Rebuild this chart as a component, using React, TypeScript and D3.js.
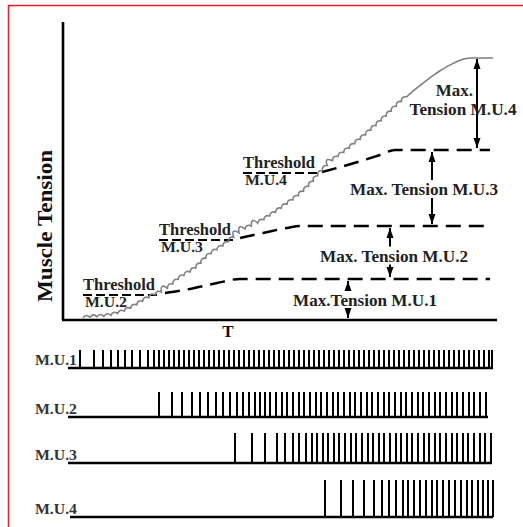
import React, { useEffect, useRef } from "react";
import * as d3 from "d3";

// ---- data (time units on the shared T axis, tension units on the Muscle Tension axis) ----
const tensionT = [20, 30, 44, 64, 87, 102, 117, 134, 144, 164, 177, 197, 220, 244, 260, 267, 284, 300, 317, 340, 364, 387, 407, 430];
const tensionV = [2, 3, 4, 10, 23, 30, 42, 53, 63, 77, 88, 98, 113, 132, 150, 157, 170, 183, 198, 220, 240, 255, 262, 262];

// plateau levels: baseline, M.U.1 max, +M.U.2, +M.U.3, +M.U.4
const levels = [0, 41, 94, 170, 263];
const arrowT = [285, 327, 369, 414];
const maxLabels = ["Max.Tension M.U.1", "Max. Tension M.U.2", "Max. Tension M.U.3"];
const maxLabelT = [302, 331, 361];

// dashed partial-tension curves starting at each recruitment threshold
const dash1T = [102, 127, 154, 177, 427];
const dash1V = [27, 31, 37, 41, 41];
const dash2T = [177, 200, 224, 237, 422];
const dash2V = [82, 87, 92, 94, 94];
const dash3T = [259, 274, 317, 332, 427];
const dash3V = [148, 152, 165, 170, 170];

const thrNames = ["M.U.2", "M.U.3", "M.U.4"];
const thrT = [92, 168, 252];
const thrV = [25, 80, 147];
const bumpT = [101, 177, 191, 267];

// spike trains
const trainNames = ["M.U.1", "M.U.2", "M.U.3", "M.U.4"];
const spikes1 = [17, 31, 40, 48, 55, 62, 69, 77, 85, 91, 96, 101, 106, 111, 116, 121, 126, 131, 136, 141, 146, 151, 156, 161, 166, 171, 176, 181, 186, 191, 196, 201, 206, 211, 216, 221, 226, 231, 236, 241, 246, 251, 256, 261, 266, 271, 276, 281, 286, 291, 296, 301, 306, 311, 316, 321, 326, 331, 336, 341, 346, 351, 356, 361, 366, 371, 376, 381, 386, 391, 396, 401, 406, 411, 416, 421, 426, 429];
const spikes2 = [96, 109, 119, 129, 137, 145, 153, 160, 167, 174, 180, 186, 192, 197, 202, 207, 213, 219, 224, 230, 236, 241, 247, 253, 258, 264, 270, 275, 281, 287, 292, 298, 304, 309, 315, 321, 326, 332, 338, 343, 349, 355, 360, 366, 372, 377, 383, 389, 394, 400, 406, 411, 417, 423];
const spikes3 = [172, 189, 202, 214, 222, 230, 236, 243, 249, 254, 260, 265, 271, 276, 282, 288, 293, 299, 305, 310, 316, 321, 327, 333, 338, 344, 349, 355, 361, 366, 372, 377, 383, 389, 394, 400, 405, 411, 417, 422, 428];
const spikes4 = [262, 278, 290, 301, 311, 319, 326, 333, 340, 345, 351, 357, 363, 369, 374, 380, 386, 392, 398, 404, 409, 415, 420, 425, 430];
const trainStart = [5, 5, 5, 7];
const trainEnd = [430, 425, 429, 430];

// ---- layout ----
const W = 523;
const H = 527;
const rowBase = [368, 417, 463, 517];
const rowH = [18, 25, 30, 37];
const FONT = "'Liberation Serif', 'Times New Roman', Times, serif";

const x = d3.scaleLinear().domain([0, 434]).range([63, 497]);
const y = d3.scaleLinear().domain([0, 298]).range([320, 22]);

const smooth = d3
  .line<[number, number]>()
  .x((d) => x(d[0]))
  .y((d) => y(d[1]))
  .curve(d3.curveMonotoneX);

function zip(a: number[], b: number[]): [number, number][] {
  return a.map((v, i) => [v, b[i]] as [number, number]);
}

function Arrowhead({ cx, tip, dir }: { cx: number; tip: number; dir: number }) {
  const b = tip + dir * 10;
  return <polygon points={`${cx},${tip} ${cx - 3.5},${b} ${cx + 3.5},${b}`} fill="#000" />;
}

export default function App() {
  const baseRef = useRef<SVGPathElement>(null);
  const rippleRef = useRef<SVGPathElement>(null);

  useEffect(() => {
    const base = baseRef.current;
    const out = rippleRef.current;
    if (!base || !out) return;
    const L = base.getTotalLength();
    const stopX = x(345);
    const bumps = bumpT.map((t) => x(t));
    const p0 = base.getPointAtLength(0);
    let d = `M${p0.x},${p0.y}`;
    const step = 7;
    for (let s = 0; s < L; s += step) {
      const e = Math.min(s + step, L);
      const a = base.getPointAtLength(s);
      const b = base.getPointAtLength(e);
      const m = base.getPointAtLength((s + e) / 2);
      const dx = b.x - a.x;
      const dy = b.y - a.y;
      const n = Math.hypot(dx, dy) || 1;
      const nx = dy / n;
      const ny = -dx / n;
      let amp = m.x < stopX ? 2.1 : 0;
      if (bumps.some((bx) => Math.abs(m.x - bx) < 5)) amp = 4.5;
      d += ` Q${m.x + nx * amp * 2},${m.y + ny * amp * 2} ${b.x},${b.y}`;
    }
    out.setAttribute("d", d);
  }, []);

  const dashSets = [zip(dash1T, dash1V), zip(dash2T, dash2V), zip(dash3T, dash3V)];
  const trains = [spikes1, spikes2, spikes3, spikes4];

  return (
    <svg
      width={W}
      height={H}
      style={{ position: "absolute", left: 0, top: 0, background: "#fff", fontFamily: FONT }}
    >
      {/* red frame */}
      <line x1={8} y1={5.5} x2={W} y2={5.5} stroke="#ee1c24" strokeWidth={1.5} />
      <line x1={8.5} y1={5} x2={8.5} y2={H} stroke="#ee1c24" strokeWidth={1.5} />

      {/* axes */}
      <line x1={x(0)} y1={y(298)} x2={x(0)} y2={y(0)} stroke="#000" strokeWidth={2.6} />
      <line x1={x(0) - 1} y1={y(0)} x2={x(434)} y2={y(0)} stroke="#000" strokeWidth={2.6} />
      <text x={x(165)} y={337} textAnchor="middle" fontWeight="bold" fontSize={17} fill="#111">
        T
      </text>
      <text
        transform={`translate(52,226) rotate(-90)`}
        textAnchor="middle"
        fontWeight="bold"
        fontSize={22}
        textLength={152}
        lengthAdjust="spacingAndGlyphs"
        fill="#111"
      >
        Muscle Tension
      </text>

      {/* dashed partial tension curves */}
      {dashSets.map((pts, i) => (
        <path
          key={"ds" + i}
          d={smooth(pts) || ""}
          fill="none"
          stroke="#000"
          strokeWidth={2.4}
          strokeDasharray="15,8"
        />
      ))}

      {/* threshold labels */}
      {thrNames.map((nm, i) => {
        const xr = x(thrT[i]);
        const yy = y(thrV[i]);
        return (
          <g key={"th" + i} fill="#222" fontWeight="bold">
            <text x={xr - 72} y={yy - 5} fontSize={16} textLength={72} lengthAdjust="spacingAndGlyphs">
              Threshold
            </text>
            <line x1={xr - 72} y1={yy} x2={xr + 6} y2={yy} stroke="#000" strokeWidth={2.2} strokeDasharray="9,4" />
            <text x={xr - 70} y={yy + 12} fontSize={15} textLength={42} lengthAdjust="spacingAndGlyphs">
              {nm}
            </text>
          </g>
        );
      })}

      {/* total tension curve */}
      <path ref={baseRef} d={smooth(zip(tensionT, tensionV)) || ""} fill="none" stroke="none" />
      <path ref={rippleRef} fill="none" stroke="#808080" strokeWidth={1.6} />

      {/* max tension arrows M.U.1..3 (split around label) */}
      {maxLabels.map((lb, i) => {
        const ax = x(arrowT[i]);
        const top = y(levels[i + 1]);
        const bot = y(levels[i]);
        const mid = (top + bot) / 2;
        const bl = mid + [6, 9, 7][i];
        return (
          <g key={"mx" + i}>
            <line x1={ax} y1={top + 2} x2={ax} y2={bl - 15} stroke="#000" strokeWidth={2} />
            <line x1={ax} y1={bl + 3} x2={ax} y2={bot - 2} stroke="#000" strokeWidth={2} />
            <Arrowhead cx={ax} tip={top + 2} dir={1} />
            <Arrowhead cx={ax} tip={bot - 2} dir={-1} />
            <text
              x={x(maxLabelT[i])}
              y={bl}
              textAnchor="middle"
              fontWeight="bold"
              fontSize={17}
              textLength={[144, 148, 148][i]}
              lengthAdjust="spacingAndGlyphs"
              fill="#222"
            >
              {lb}
            </text>
          </g>
        );
      })}

      {/* M.U.4 arrow */}
      <g>
        <line x1={x(arrowT[3])} y1={y(levels[4]) + 2} x2={x(arrowT[3])} y2={y(levels[3]) - 2} stroke="#000" strokeWidth={2} />
        <Arrowhead cx={x(arrowT[3])} tip={y(levels[4]) + 2} dir={1} />
        <Arrowhead cx={x(arrowT[3])} tip={y(levels[3]) - 2} dir={-1} />
        <text x={x(arrowT[3]) - 4} y={96} textAnchor="end" fontWeight="bold" fontSize={17} fill="#222">
          Max.
        </text>
        <text
          x={x(arrowT[3]) - 14}
          y={115}
          textAnchor="middle"
          fontWeight="bold"
          fontSize={17}
          fill="#222"
          textLength={107}
          lengthAdjust="spacingAndGlyphs"
        >
          {"Tension M.U.4"}
        </text>
      </g>

      {/* spike trains */}
      {trains.map((sp, r) => (
        <g key={"tr" + r}>
          <text x={35} y={rowBase[r] - 3} fontWeight="bold" fontSize={15} fill="#333" textLength={42} lengthAdjust="spacingAndGlyphs">
            {trainNames[r]}
          </text>
          <line x1={x(trainStart[r])} y1={rowBase[r]} x2={x(trainEnd[r])} y2={rowBase[r]} stroke="#000" strokeWidth={2.6} />
          {sp.map((t, k) => (
            <line key={k} x1={x(t)} y1={rowBase[r]} x2={x(t)} y2={rowBase[r] - rowH[r]} stroke="#000" strokeWidth={2} />
          ))}
        </g>
      ))}
    </svg>
  );
}
